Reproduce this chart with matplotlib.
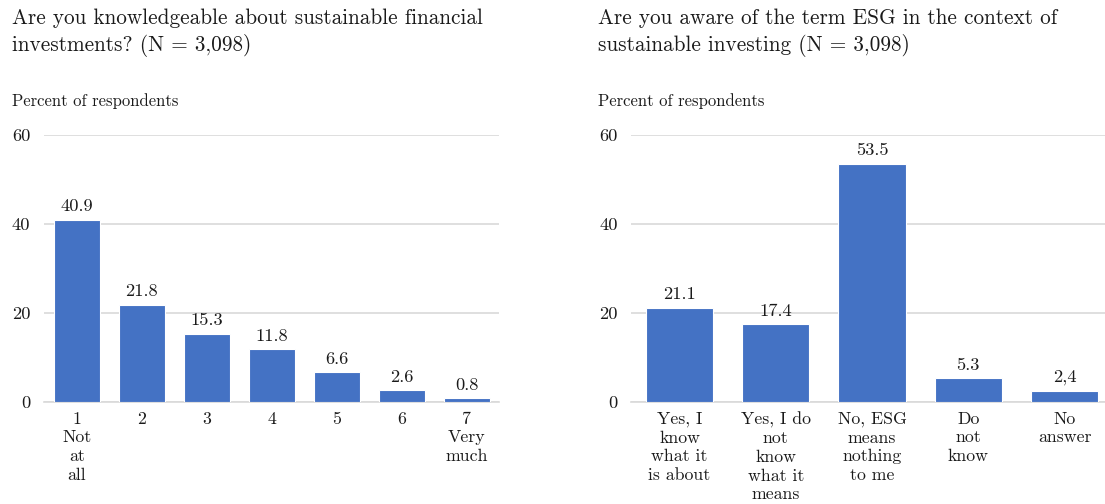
import matplotlib
matplotlib.use("Agg")
import matplotlib.pyplot as plt

plt.rcParams['font.family'] = ['cmr10', 'DejaVu Serif']
plt.rcParams['axes.formatter.use_mathtext'] = True

# ---- data ----
left_title = "Are you knowledgeable about sustainable financial\ninvestments? (N = 3,098)"
left_categories = ["1\nNot\nat\nall", "2", "3", "4", "5", "6", "7\nVery\nmuch"]
left_values = [40.9, 21.8, 15.3, 11.8, 6.6, 2.6, 0.8]
left_labels = ["40.9", "21.8", "15.3", "11.8", "6.6", "2.6", "0.8"]

right_title = "Are you aware of the term ESG in the context of\nsustainable investing (N = 3,098)"
right_categories = ["Yes, I\nknow\nwhat it\nis about", "Yes, I do\nnot\nknow\nwhat it\nmeans",
                    "No, ESG\nmeans\nnothing\nto me", "Do\nnot\nknow", "No\nanswer"]
right_values = [21.1, 17.4, 53.5, 5.3, 2.4]
right_labels = ["21.1", "17.4", "53.5", "5.3", "2,4"]

y_ticks = [0, 20, 40, 60]
y_label = "Percent of respondents"

BAR = "#4472C4"
GRID = "#D9D9D9"
TXT = "#1a1a1a"
FS = 13.3
FS_CAT = 12.8

fig = plt.figure(figsize=(11.05, 5.04), dpi=100)

def panel(rect, cats, vals, labels, xmax, title, title_x):
    ax = fig.add_axes(rect)
    x = list(range(len(cats)))
    ax.bar(x, vals, width=0.7, color=BAR, edgecolor="white", linewidth=0.8, zorder=3)
    ax.set_xlim(-0.5, xmax)
    ax.set_ylim(0, 60)
    ax.set_yticks(y_ticks)
    ax.set_yticklabels([str(t) for t in y_ticks], fontsize=FS, color=TXT)
    ax.set_xticks(x)
    ax.set_xticklabels(cats, fontsize=FS_CAT, color=TXT, linespacing=1.27, va="top")
    ax.tick_params(axis="both", length=0)
    ax.tick_params(axis="y", pad=10)
    ax.tick_params(axis="x", pad=7)
    for s in ["top", "right", "left"]:
        ax.spines[s].set_visible(False)
    ax.spines["bottom"].set_color(GRID)
    ax.spines["bottom"].set_linewidth(1.2)
    ax.yaxis.grid(True, color=GRID, linewidth=1.2, zorder=0)
    ax.set_axisbelow(True)
    for xi, v, lab in zip(x, vals, labels):
        ax.annotate(lab, (xi, v), xytext=(0, 4), textcoords="offset points",
                    ha="center", va="bottom", fontsize=FS, color=TXT)
    fig.text(title_x, 1 - 8 / 504, title, ha="left", va="top", fontsize=15.3,
             color=TXT, linespacing=1.38)
    fig.text(title_x, 1 - 93 / 504, y_label, ha="left", va="top", fontsize=12, color=TXT)
    return ax

bottom = (504 - 401.7) / 504
height = (401.7 - 134.7) / 504
panel([44.3 / 1105, bottom, 455 / 1105, height], left_categories, left_values, left_labels,
      6.5, left_title, 12 / 1105)
panel([631.4 / 1105, bottom, 473.6 / 1105, height], right_categories, right_values, right_labels,
      4.42, right_title, 598 / 1105)

fig.savefig("out.png", dpi=100)
